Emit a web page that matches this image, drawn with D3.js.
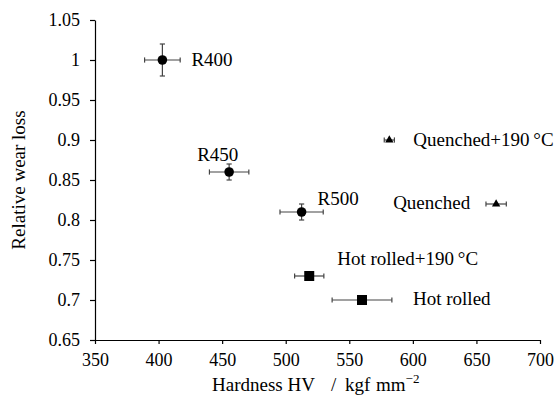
<!DOCTYPE html>
<html>
<head>
<meta charset="utf-8">
<script src="https://cdn.jsdelivr.net/npm/d3@7"></script>
<style>
  body { margin: 0; background: #fff; }
  svg text { font-family: "Liberation Serif", serif; fill: #000; }
</style>
</head>
<body>
<div id="chart"></div>
<script>
var w = 557, h = 395;

// data
var names = ["R400", "R450", "R500", "Quenched+190\u2009\u00b0C", "Quenched", "Hot rolled+190\u2009\u00b0C", "Hot rolled"];
var hardness = [403, 455.5, 512.5, 581.5, 665.5, 518.5, 560];
var hardnessErr = [14, 15.5, 17, 4, 8, 11.5, 23.5];
var wearLoss = [1.0, 0.86, 0.81, 0.9, 0.82, 0.73, 0.7];
var wearErr = [0.02, 0.01, 0.01, 0, 0, 0, 0];
var markers = ["circle", "circle", "circle", "triangle", "triangle", "square", "square"];
var xTicks = [350, 400, 450, 500, 550, 600, 650, 700];
var yTicks = [0.65, 0.7, 0.75, 0.8, 0.85, 0.9, 0.95, 1, 1.05];

// label offsets (baseline) relative to the point
var labelPos = [
    {dx: 29, dy: 6},
    {dx: -32, dy: -11},
    {dx: 16, dy: -7},
    {dx: 24, dy: 5.5},
    {dx: -103, dy: 5},
    {dx: 28, dy: -11},
    {dx: 51, dy: 5}
];

var data = names.map(function(n, i) {
    return {name: n, x: hardness[i], xe: hardnessErr[i], y: wearLoss[i], ye: wearErr[i], m: markers[i], lp: labelPos[i]};
});

var xScale = d3.scaleLinear().domain([350, 700]).range([95, 540]);
var yScale = d3.scaleLinear().domain([0.65, 1.05]).range([340, 20]);

var svg = d3.select("#chart").append("svg").attr("width", w).attr("height", h);

// axes
svg.append("g")
    .attr("transform", "translate(0," + yScale(0.65) + ")")
    .call(d3.axisBottom(xScale).tickValues(xTicks).tickSize(4).tickPadding(9).tickFormat(d3.format("d")).tickSizeOuter(0));
svg.append("g")
    .attr("transform", "translate(" + xScale(350) + ",0)")
    .call(d3.axisLeft(yScale).tickValues(yTicks).tickSize(5).tickPadding(10).tickFormat(function(d) { return String(+d.toFixed(2)); }).tickSizeOuter(0));
svg.selectAll(".tick text")
    .style("font-family", "'Liberation Serif', serif")
    .style("font-size", "18px");
svg.selectAll(".domain, .tick line").attr("stroke", "#000").attr("stroke-width", 1.2);

// axis titles
var xt = svg.append("text")
    .attr("y", 391)
    .style("font-size", "19px");
xt.append("tspan").attr("x", 212).text("Hardness HV");
xt.append("tspan").attr("x", 331).text("/");
xt.append("tspan").attr("x", 345).text("kgf");
xt.append("tspan").attr("x", 376).text("mm");
xt.append("tspan").attr("dy", -8).style("font-size", "13px").text("\u22122");

svg.append("text")
    .attr("transform", "translate(25," + ((20 + 340) / 2) + ") rotate(-90)")
    .attr("text-anchor", "middle")
    .style("font-size", "19px")
    .text("Relative wear loss");

// error bars
var cap = 2.6;
var eb = svg.append("g").attr("stroke", "#444").attr("stroke-width", 1.2);
data.forEach(function(d) {
    var cx = xScale(d.x), cy = yScale(d.y);
    var x0 = xScale(d.x - d.xe), x1 = xScale(d.x + d.xe);
    eb.append("line").attr("x1", x0).attr("x2", x1).attr("y1", cy).attr("y2", cy);
    eb.append("line").attr("x1", x0).attr("x2", x0).attr("y1", cy - cap).attr("y2", cy + cap);
    eb.append("line").attr("x1", x1).attr("x2", x1).attr("y1", cy - cap).attr("y2", cy + cap);
    if (d.ye > 0) {
        var y0 = yScale(d.y - d.ye), y1 = yScale(d.y + d.ye);
        eb.append("line").attr("x1", cx).attr("x2", cx).attr("y1", y0).attr("y2", y1);
        eb.append("line").attr("x1", cx - cap).attr("x2", cx + cap).attr("y1", y0).attr("y2", y0);
        eb.append("line").attr("x1", cx - cap).attr("x2", cx + cap).attr("y1", y1).attr("y2", y1);
    }
});

// markers
var symbolType = {circle: d3.symbolCircle, square: d3.symbolSquare, triangle: d3.symbolTriangle};
var symbolSize = {circle: 72, square: 100, triangle: 30};
svg.selectAll(".pt")
    .data(data)
    .enter()
    .append("path")
    .attr("class", "pt")
    .attr("transform", function(d) { return "translate(" + xScale(d.x) + "," + yScale(d.y) + ")"; })
    .attr("d", function(d) { return d3.symbol().type(symbolType[d.m]).size(symbolSize[d.m])(); })
    .attr("fill", "#000");

// point labels
svg.selectAll(".lbl")
    .data(data)
    .enter()
    .append("text")
    .attr("class", "lbl")
    .attr("x", function(d) { return xScale(d.x) + d.lp.dx; })
    .attr("y", function(d) { return yScale(d.y) + d.lp.dy; })
    .style("font-size", "19px")
    .text(function(d) { return d.name; });
</script>
</body>
</html>
